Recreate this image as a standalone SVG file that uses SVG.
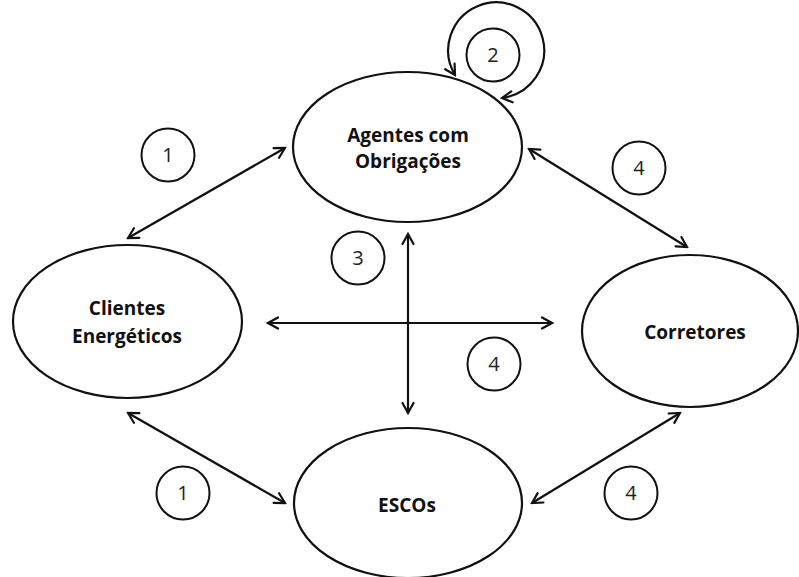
<svg xmlns="http://www.w3.org/2000/svg" width="799" height="577" viewBox="0 0 799 577">
  <defs>
    <!-- open chevron arrowhead, used at both ends of every connector -->
    <marker id="chev" viewBox="0 0 14 14" refX="12" refY="7" markerWidth="14" markerHeight="14" markerUnits="userSpaceOnUse" orient="auto-start-reverse">
      <path d="M2 1.5 L12 7 L2 12.5" fill="none" stroke="#111" stroke-width="2.2" stroke-linecap="round" stroke-linejoin="miter"/>
    </marker>
  </defs>
  <style>
    .node ellipse { fill: #fff; stroke: #111; stroke-width: 2.2; }
    .node text { font-family: "Open Sans", "Liberation Sans", sans-serif; font-weight: bold; font-size: 19px; fill: #111; text-anchor: middle; }
    .edge { fill: none; stroke: #111; stroke-width: 2.2; marker-start: url(#chev); marker-end: url(#chev); }
    .tag circle { fill: #fff; stroke: #111; stroke-width: 2; }
    .tag text { font-family: "Open Sans", "Liberation Sans", sans-serif; font-size: 20px; fill: #222; text-anchor: middle; }
  </style>
  <rect width="799" height="577" fill="#fff"/>

  <!-- connectors -->
  <g id="connectors">
    <line class="edge" x1="128" y1="238" x2="285" y2="148"/>
    <line class="edge" x1="529" y1="149" x2="687" y2="247"/>
    <line class="edge" x1="408" y1="234" x2="408" y2="413"/>
    <line class="edge" x1="268" y1="323" x2="552" y2="323"/>
    <line class="edge" x1="128" y1="413" x2="285" y2="503"/>
    <line class="edge" x1="532" y1="503" x2="680" y2="413"/>
    <path class="edge" d="M455 75 A48 48 0 1 1 502 98"/>
  </g>

  <!-- nodes -->
  <g id="agentes" class="node">
    <ellipse cx="407.5" cy="147" rx="114.5" ry="75"/>
    <text x="408" y="142">Agentes com</text>
    <text x="408" y="168">Obrigações</text>
  </g>
  <g id="clientes" class="node">
    <ellipse cx="127.5" cy="321.5" rx="114.5" ry="76.5"/>
    <text x="127" y="315">Clientes</text>
    <text x="127" y="343">Energéticos</text>
  </g>
  <g id="corretores" class="node">
    <ellipse cx="690" cy="331" rx="108" ry="76"/>
    <text x="695" y="339">Corretores</text>
  </g>
  <g id="escos" class="node">
    <ellipse cx="408" cy="503" rx="114" ry="75"/>
    <text x="407" y="512">ESCOs</text>
  </g>

  <!-- numbered relation tags -->
  <g id="tags">
    <g class="tag"><circle cx="168" cy="155" r="26.5"/><text x="168" y="162">1</text></g>
    <g class="tag"><circle cx="493" cy="55" r="26.5"/><text x="493" y="62">2</text></g>
    <g class="tag"><circle cx="639" cy="168" r="26.5"/><text x="639" y="175">4</text></g>
    <g class="tag"><circle cx="358" cy="258" r="26.5"/><text x="358" y="265">3</text></g>
    <g class="tag"><circle cx="494" cy="364" r="26.5"/><text x="494" y="371">4</text></g>
    <g class="tag"><circle cx="183" cy="493" r="26.5"/><text x="183" y="500">1</text></g>
    <g class="tag"><circle cx="631" cy="493" r="26.5"/><text x="631" y="500">4</text></g>
  </g>
</svg>
